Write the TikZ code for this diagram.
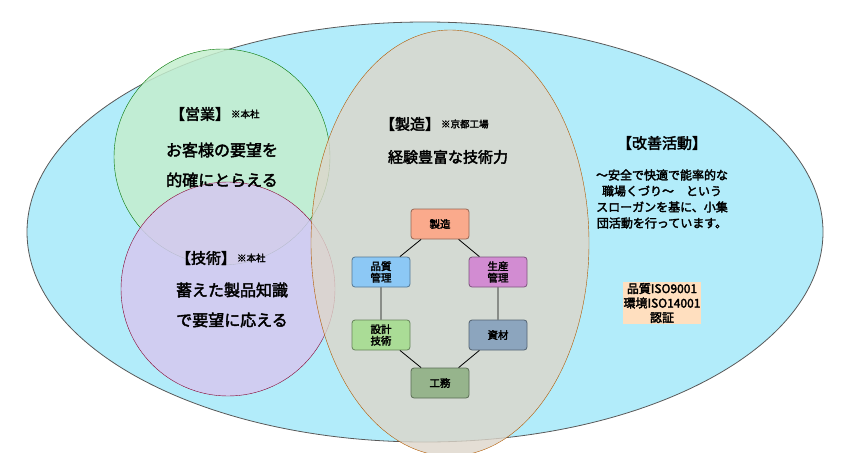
\documentclass[tikz,border=0pt]{standalone}
\usepackage{fontspec}
\setmainfont{Noto Sans CJK JP}[AutoFakeBold=2.5]
\usetikzlibrary{positioning}
\definecolor{skyfill}{RGB}{178,236,250}
\definecolor{leaffill}{RGB}{196,238,206}
\definecolor{plumfill}{RGB}{214,200,240}
\definecolor{tanfill}{RGB}{221,214,202}
\definecolor{mfgfill}{RGB}{250,170,140}
\definecolor{qcfill}{RGB}{140,200,245}
\definecolor{prodfill}{RGB}{210,140,210}
\definecolor{designfill}{RGB}{170,220,150}
\definecolor{matfill}{RGB}{140,165,190}
\definecolor{worksfill}{RGB}{150,180,140}
\tikzset{
  unit/.style={draw=#1!60!black, thick, fill=#1, rounded corners=3pt,
    minimum width=58pt, minimum height=30pt, align=center,
    font=\fontsize{10.5}{11.5}\selectfont\bfseries, inner sep=1pt},
  title/.style={font=\fontsize{15}{17}\selectfont\bfseries},
  small/.style={font=\fontsize{9.5}{10}\selectfont\bfseries},
  body/.style={font=\fontsize{16}{30}\selectfont\bfseries, align=center},
}
\begin{document}
\begin{tikzpicture}[x=1pt,y=-1pt]
  \useasboundingbox (0,0) rectangle (850,452);

  %%%% outer ellipse
  \draw[fill=skyfill, draw=gray!70!black, thick] (425,232) ellipse (398pt and 210pt);

  %%%% circles
  \draw[fill=leaffill, fill opacity=.85, draw=green!45!black] (222,157) circle (108pt);
  \draw[fill=plumfill, fill opacity=.85, draw=purple!70!black] (228,289) circle (107pt);
  \draw[fill=tanfill, fill opacity=.8, draw=orange!70!black] (450,243) ellipse (139pt and 213pt);

  %%%% sales
  \node[title] (salesT) at (200,114) {【営業】};
  \node[small, right=-6pt of salesT] (salesS) {※本社};
  \node[body] (salesB) at (222,165) {お客様の要望を\\的確にとらえる};

  %%%% tech
  \node[title] (techT) at (206,258) {【技術】};
  \node[small, right=-6pt of techT] (techS) {※本社};
  \node[body] (techB) at (232,305) {蓄えた製品知識\\で要望に応える};

  %%%% factory
  \node[title] (factT) at (410,124) {【製造】};
  \node[small, right=-6pt of factT] (factS) {※京都工場};
  \node[title] (factB) at (448,157) {経験豊富な技術力};

  \node[unit=mfgfill] (mfg) at (440,224) {製造};
  \node[unit=qcfill] (qc) at (381,272) {品質\\管理};
  \node[unit=prodfill] (prod) at (498,272) {生産\\管理};
  \node[unit=designfill] (design) at (381,335) {設計\\技術};
  \node[unit=matfill] (mat) at (498,335) {資材};
  \node[unit=worksfill] (works) at (440,383) {工務};

  \draw[thick] (mfg) -- (prod) -- (mat) -- (works) -- (design) -- (qc) -- (mfg);

  %%%% kaizen
  \node[title] (kaiT) at (662,143) {【改善活動】};
  \node[font=\fontsize{12}{16}\selectfont\bfseries, align=center] (kaiB) at (662,199)
    {～安全で快適で能率的な\\職場くづり～\quad という\\スローガンを基に、小集\\団活動を行っています。};
  \node[font=\fontsize{12}{14.5}\selectfont\bfseries, align=center, fill=orange!25, inner sep=1pt] (iso) at (662,303)
    {品質ISO9001\\環境ISO14001\\認証};
\end{tikzpicture}
\end{document}
